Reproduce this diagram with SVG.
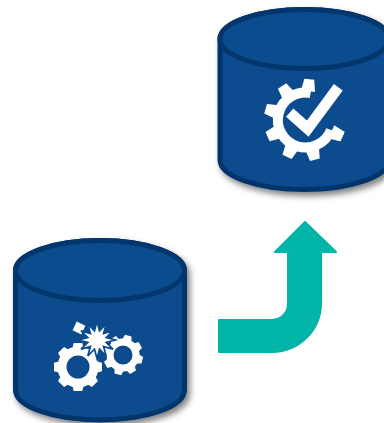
<svg xmlns="http://www.w3.org/2000/svg" xmlns:xlink="http://www.w3.org/1999/xlink" width="384" height="423" viewBox="0 0 384 423">
<style>
.body{fill:#0b4c8f;stroke:#03366c;stroke-width:5;stroke-linejoin:round}
.ring{fill:none;stroke:#fff}
.w{fill:#fff}
</style>
<defs>
<filter id="sh" x="-15%" y="-15%" width="130%" height="130%">
<feDropShadow dx="3" dy="4" stdDeviation="3" flood-color="#000" flood-opacity="0.5"/>
</filter>
<polygon id="t" points="-6,-17 -4.300,-24 4.300,-24 6,-17"/>
<polygon id="t2" points="-5,-14 -3.400,-20 3.400,-20 5,-14"/>
<polygon id="t3" points="-7,-29 -5,-41 5,-41 7,-29"/>
</defs>
<g id="source-database">
<path class="body" filter="url(#sh)" d="M15.500 270.500A84.500 30 0 0 1 184.500 270.500V390A84.500 30 0 0 1 15.500 390Z"/>
<ellipse class="body" cx="100" cy="270.500" rx="84.500" ry="30"/>
<g class="w">
<circle class="ring" cx="78" cy="367" r="16" stroke-width="9"/>
<g transform="translate(78 367)">
<use href="#t"/><use href="#t" transform="rotate(45)"/><use href="#t" transform="rotate(90)"/><use href="#t" transform="rotate(135)"/><use href="#t" transform="rotate(180)"/><use href="#t" transform="rotate(225)"/><use href="#t" transform="rotate(270)"/><use href="#t" transform="rotate(315)"/>
</g>
<circle class="ring" cx="123" cy="355" r="13" stroke-width="7"/>
<g transform="translate(123 355) rotate(15)">
<use href="#t2"/><use href="#t2" transform="rotate(45)"/><use href="#t2" transform="rotate(90)"/><use href="#t2" transform="rotate(135)"/><use href="#t2" transform="rotate(180)"/><use href="#t2" transform="rotate(225)"/><use href="#t2" transform="rotate(270)"/><use href="#t2" transform="rotate(315)"/>
</g>
<rect x="-4.800" y="-4.800" width="9.600" height="9.600" transform="translate(79 328) rotate(25)"/>
<polygon transform="translate(97 340) scale(1.150)" stroke="#0b4c8f" stroke-width="1.500" points="0,-16 2.200,-8 8,-13.900 5.700,-5.700 13.900,-8 8,-2.200 16,0 8,2.200 13.900,8 5.700,5.700 8,13.900 2.200,8 0,16 -2.200,8 -8,13.900 -5.700,5.700 -13.900,8 -8,2.200 -16,0 -8,-2.200 -13.900,-8 -5.700,-5.700 -8,-13.900 -2.200,-8"/>
</g>
</g>
<g id="target-database">
<path class="body" filter="url(#sh)" d="M220 39A84.500 29.500 0 0 1 389 39V160A84.500 29.500 0 0 1 220 160Z"/>
<ellipse class="body" cx="304.500" cy="39" rx="84.500" ry="29.500"/>
<g class="w">
<path class="ring" stroke-width="10" d="M310.600 93A27.500 27.500 0 1 0 331 130"/>
<g transform="translate(305 120)">
<use href="#t3" transform="rotate(6)"/><use href="#t3" transform="rotate(-34)"/><use href="#t3" transform="rotate(-74)"/><use href="#t3" transform="rotate(-114)"/><use href="#t3" transform="rotate(-154)"/><use href="#t3" transform="rotate(-194)"/><use href="#t3" transform="rotate(114)"/><use href="#t3" transform="rotate(-246)"/>
</g>
<path fill="none" stroke="#0b4c8f" stroke-width="14" d="M289.700 112.700L307.700 128.700L338.300 87.300"/>
<path fill="none" stroke="#fff" stroke-width="11" d="M289.700 112.700L307.700 128.700L338.300 87.300"/>
</g>
</g>
<g id="connectors">
<path fill="#00b5a8" stroke="#00b5a8" stroke-width="2" stroke-linejoin="round" d="M219 320H272A16 16 0 0 0 288 304V252H275L305 222L336 252H321V303A49 49 0 0 1 272 352H219Z"/>
</g>
</svg>
